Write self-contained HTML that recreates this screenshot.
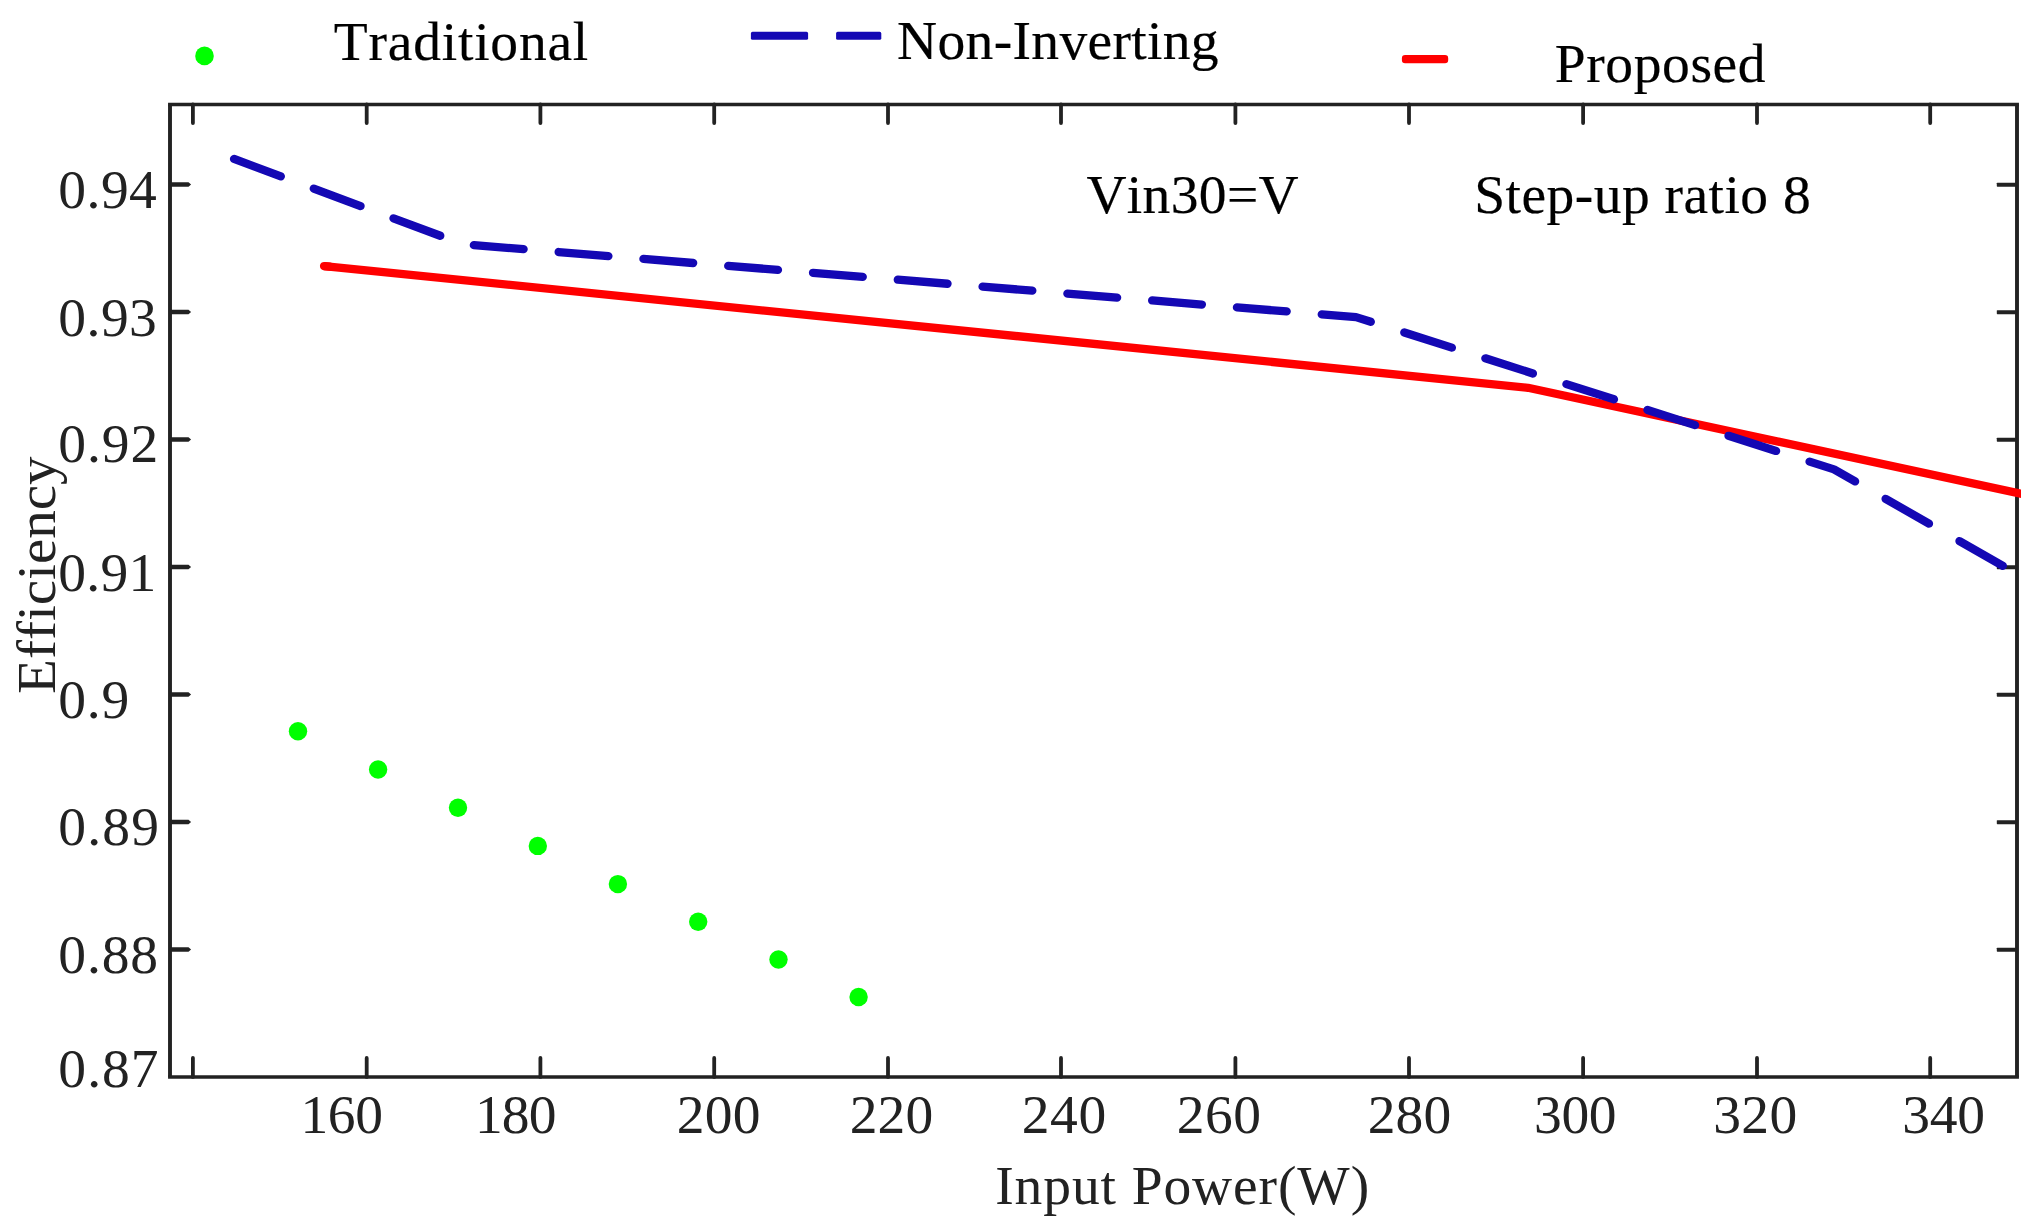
<!DOCTYPE html>
<html lang="en">
<head>
<meta charset="utf-8">
<title>Efficiency vs Input Power</title>
<style>
html,body{margin:0;padding:0;background:#ffffff;}
body{width:2038px;height:1225px;overflow:hidden;}
svg{display:block;}
text{font-family:"Liberation Serif","Times New Roman",serif;font-size:55.5px;font-variant-ligatures:none;font-kerning:none;white-space:pre;}
</style>
</head>
<body>
<svg width="2038" height="1225" viewBox="0 0 2038 1225">
<rect x="0" y="0" width="2038" height="1225" fill="#ffffff"/>
<g fill="none" stroke="#222222" stroke-linecap="butt">
<line x1="168.05" y1="104.45" x2="2018.95" y2="104.45" stroke-width="3.4"/>
<line x1="168.05" y1="1076.95" x2="2018.95" y2="1076.95" stroke-width="3.5"/>
<line x1="170.00" y1="104.45" x2="170.00" y2="1076.95" stroke-width="3.9"/>
<line x1="2017.00" y1="104.45" x2="2017.00" y2="1076.95" stroke-width="3.9"/>
</g>
<g fill="none" stroke="#222222" stroke-width="3.8" stroke-linecap="round">
<line x1="192.9" y1="104.45" x2="192.9" y2="123.10"/>
<line x1="192.9" y1="1076.95" x2="192.9" y2="1057.90"/>
<line x1="366.7" y1="104.45" x2="366.7" y2="123.10"/>
<line x1="366.7" y1="1076.95" x2="366.7" y2="1057.90"/>
<line x1="540.4" y1="104.45" x2="540.4" y2="123.10"/>
<line x1="540.4" y1="1076.95" x2="540.4" y2="1057.90"/>
<line x1="714.2" y1="104.45" x2="714.2" y2="123.10"/>
<line x1="714.2" y1="1076.95" x2="714.2" y2="1057.90"/>
<line x1="888.0" y1="104.45" x2="888.0" y2="123.10"/>
<line x1="888.0" y1="1076.95" x2="888.0" y2="1057.90"/>
<line x1="1061.0" y1="104.45" x2="1061.0" y2="123.10"/>
<line x1="1061.0" y1="1076.95" x2="1061.0" y2="1057.90"/>
<line x1="1235.4" y1="104.45" x2="1235.4" y2="123.10"/>
<line x1="1235.4" y1="1076.95" x2="1235.4" y2="1057.90"/>
<line x1="1409.0" y1="104.45" x2="1409.0" y2="123.10"/>
<line x1="1409.0" y1="1076.95" x2="1409.0" y2="1057.90"/>
<line x1="1583.1" y1="104.45" x2="1583.1" y2="123.10"/>
<line x1="1583.1" y1="1076.95" x2="1583.1" y2="1057.90"/>
<line x1="1757.0" y1="104.45" x2="1757.0" y2="123.10"/>
<line x1="1757.0" y1="1076.95" x2="1757.0" y2="1057.90"/>
<line x1="1930.2" y1="104.45" x2="1930.2" y2="123.10"/>
<line x1="1930.2" y1="1076.95" x2="1930.2" y2="1057.90"/>
</g>
<g fill="#222222" stroke="none">
<polygon points="170.0,947.35 188.5,947.35 191.1,949.60 188.5,951.85 170.0,951.85"/>
<rect x="1996.8" y="947.75" width="20.2" height="3.90" rx="0.6"/>
<polygon points="170.0,819.85 188.5,819.85 191.1,822.10 188.5,824.35 170.0,824.35"/>
<rect x="1996.8" y="820.25" width="20.2" height="3.90" rx="0.6"/>
<polygon points="170.0,692.35 188.5,692.35 191.1,694.60 188.5,696.85 170.0,696.85"/>
<rect x="1996.8" y="692.75" width="20.2" height="3.90" rx="0.6"/>
<polygon points="170.0,564.85 188.5,564.85 191.1,567.10 188.5,569.35 170.0,569.35"/>
<rect x="1996.8" y="565.25" width="20.2" height="3.90" rx="0.6"/>
<polygon points="170.0,437.35 188.5,437.35 191.1,439.60 188.5,441.85 170.0,441.85"/>
<rect x="1996.8" y="437.75" width="20.2" height="3.90" rx="0.6"/>
<polygon points="170.0,309.85 188.5,309.85 191.1,312.10 188.5,314.35 170.0,314.35"/>
<rect x="1996.8" y="310.25" width="20.2" height="3.90" rx="0.6"/>
<polygon points="170.0,182.35 188.5,182.35 191.1,184.60 188.5,186.85 170.0,186.85"/>
<rect x="1996.8" y="182.75" width="20.2" height="3.90" rx="0.6"/>
</g>
<clipPath id="rc"><rect x="300" y="200" width="1720.9" height="400"/></clipPath>
<g fill="none" stroke="#ff0000" stroke-width="8.3" stroke-linejoin="round" clip-path="url(#rc)">
<polyline points="324.05,266.06 1528,387.8 2030,495.73" stroke-linecap="butt"/>
<line x1="324.05" y1="266.06" x2="330" y2="266.66" stroke-linecap="round"/>
</g>
<rect x="1401.9" y="54.95" width="46.3" height="8.2" rx="3.2" fill="#ff0000"/>
<g fill="none" stroke="#1408b4" stroke-width="8.3" stroke-linecap="round" stroke-linejoin="round" stroke-dasharray="49.9 35.17">
<polyline points="234.05,158.95 462.9,244.2 1356.0,317.1 1834.0,469.4 2003.4,566.1"/>
</g>
<rect x="750.9" y="31.8" width="57.2" height="8.05" rx="1.6" fill="#1408b4"/>
<rect x="836.1" y="31.8" width="45.2" height="8.05" rx="1.6" fill="#1408b4"/>
<g fill="#00ff00">
<circle cx="298.0" cy="731.2" r="9.2"/>
<circle cx="378.1" cy="769.5" r="9.2"/>
<circle cx="458.0" cy="807.7" r="9.2"/>
<circle cx="537.8" cy="845.9" r="9.2"/>
<circle cx="617.9" cy="884.1" r="9.2"/>
<circle cx="698.2" cy="921.8" r="9.2"/>
<circle cx="778.5" cy="959.5" r="9.2"/>
<circle cx="858.6" cy="997.0" r="9.2"/>
<circle cx="204.5" cy="55.9" r="9.3"/>
</g>
<text id="x160" x="300.50" y="1132.60" fill="#222222" letter-spacing="-0.400">160</text>
<text id="x180" x="474.95" y="1132.60" fill="#222222" letter-spacing="-0.850">180</text>
<text id="x200" x="676.70" y="1132.70" fill="#222222" letter-spacing="0.250">200</text>
<text id="x220" x="849.65" y="1132.70" fill="#222222" letter-spacing="0.125">220</text>
<text id="x240" x="1021.65" y="1132.70" fill="#222222" letter-spacing="0.725">240</text>
<text id="x260" x="1176.80" y="1132.70" fill="#222222" letter-spacing="0.450">260</text>
<text id="x280" x="1367.80" y="1132.70" fill="#222222" letter-spacing="0.050">280</text>
<text id="x300" x="1534.05" y="1132.70" fill="#222222" letter-spacing="-0.350">300</text>
<text id="x320" x="1713.20" y="1132.70" fill="#222222" letter-spacing="0.425">320</text>
<text id="x340" x="1902.25" y="1132.70" fill="#222222" letter-spacing="-0.200">340</text>
<text id="y94" x="58.35" y="207.60" fill="#222222" letter-spacing="0.467">0.94</text>
<text id="y93" x="58.35" y="335.50" fill="#222222" letter-spacing="0.467">0.93</text>
<text id="y92" x="58.35" y="462.40" fill="#222222" letter-spacing="0.917">0.92</text>
<text id="y91" x="58.35" y="590.50" fill="#222222" letter-spacing="0.250">0.91</text>
<text id="y90" x="58.35" y="717.60" fill="#222222" letter-spacing="0.725">0.9</text>
<text id="y89" x="58.35" y="845.20" fill="#222222" letter-spacing="1.200">0.89</text>
<text id="y88" x="58.35" y="973.20" fill="#222222" letter-spacing="0.867">0.88</text>
<text id="y87" x="58.35" y="1086.90" fill="#222222" letter-spacing="1.033">0.87</text>
<text id="xl" x="995.20" y="1203.60" fill="#222222" letter-spacing="0.904">Input Power(W)</text>
<text id="lg1" x="333.80" y="59.50" fill="#000000" letter-spacing="0.790" stroke="#000000" stroke-width="0.2">Traditional</text>
<text id="lg2" x="897.10" y="58.60" fill="#000000" letter-spacing="0.333" stroke="#000000" stroke-width="0.2">Non-Inverting</text>
<text id="lg3t" x="1554.65" y="81.50" fill="#000000" letter-spacing="0.629" stroke="#000000" stroke-width="0.2">Proposed</text>
<text id="a1" x="1086.40" y="213.20" fill="#000000" letter-spacing="0.358" stroke="#000000" stroke-width="0.2">Vin30=V</text>
<text id="a2" x="1474.20" y="213.10" fill="#000000" letter-spacing="0.471" stroke="#000000" stroke-width="0.2">Step-up ratio 8</text>
<text id="yl" x="55.00" y="693.95" fill="#222222" transform="rotate(-90 55.00 693.95)" textLength="237.50" lengthAdjust="spacingAndGlyphs">Efficiency</text>
</svg>
</body>
</html>
